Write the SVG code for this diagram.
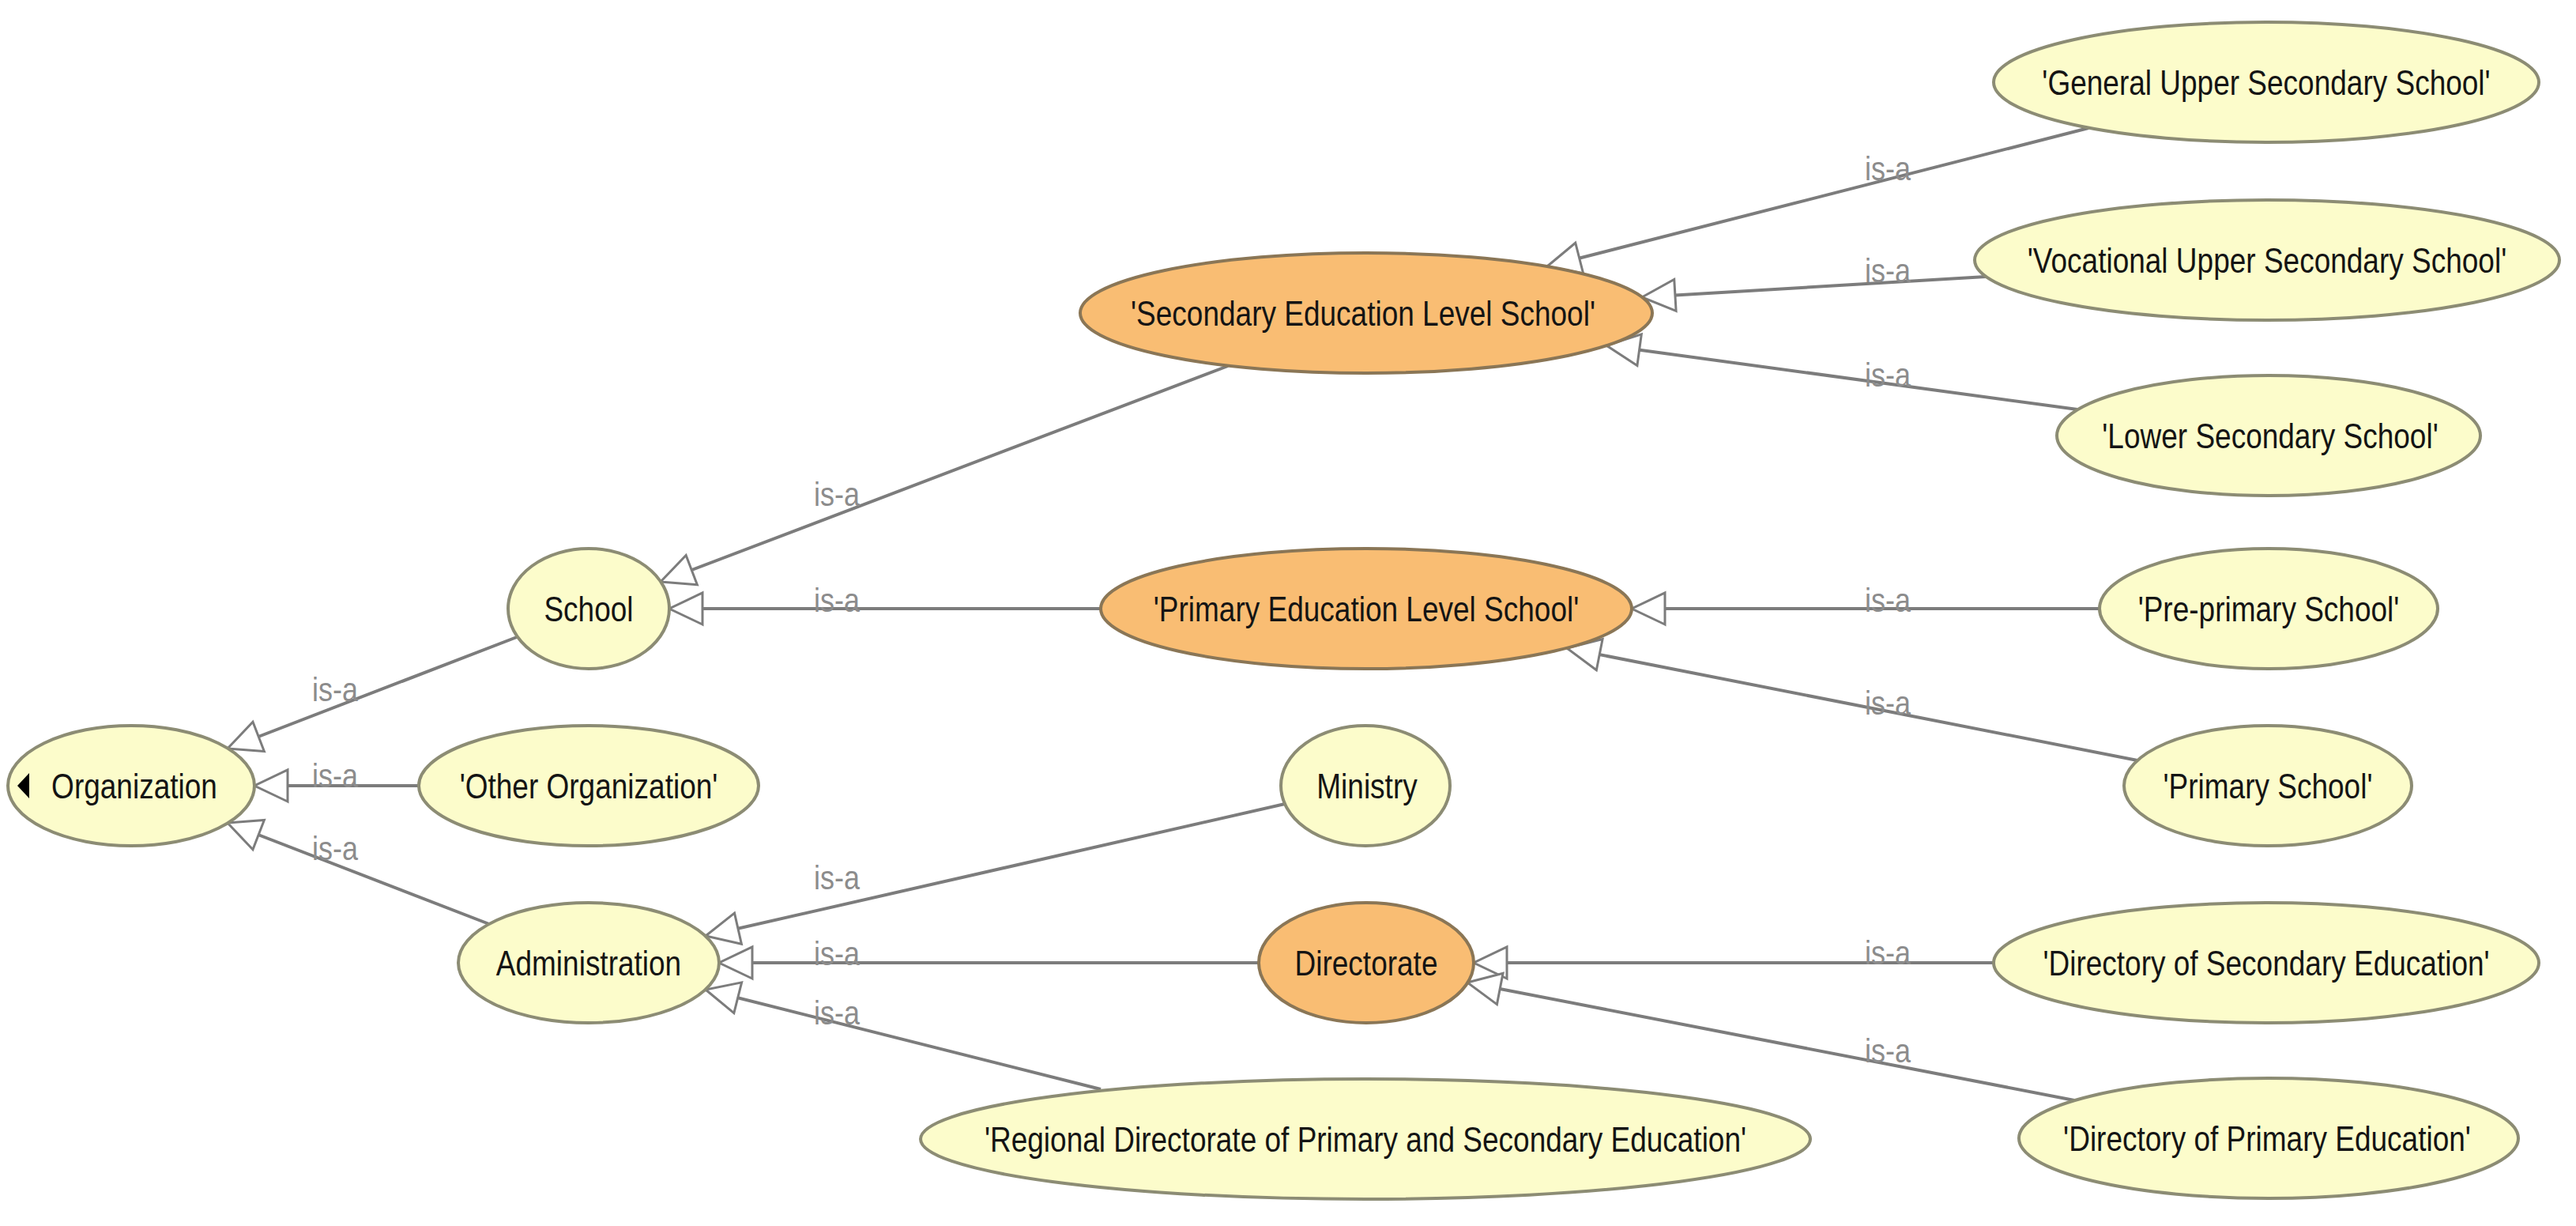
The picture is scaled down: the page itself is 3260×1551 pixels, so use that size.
<svg xmlns="http://www.w3.org/2000/svg" width="3260" height="1551" viewBox="0 0 3260 1551">
<style>
.n ellipse{stroke-width:4}
.y ellipse{fill:#fcfccb;stroke:#8c8c74}
.o ellipse{fill:#f9bd73;stroke:#8a7656}
.n text{font-family:"Liberation Sans",Arial,sans-serif;font-size:37px;fill:#141414;text-anchor:middle}
.e line{stroke:#7c7c7c;stroke-width:4;marker-end:url(#tri)}
.e text{font-family:"Liberation Sans",Arial,sans-serif;font-size:36px;fill:#8c8c8c}
</style>
<defs>
<marker id="tri" markerUnits="userSpaceOnUse" viewBox="-3 -3 48 46" markerWidth="48" markerHeight="46" refX="42" refY="20" orient="auto">
<path d="M0,0 L42,20 L0,40 Z" fill="#ffffff" stroke="#7c7c7c" stroke-width="3"/>
</marker>
</defs>
<rect width="3260" height="1551" fill="#ffffff"/>
<g id="connectors" class="e">
<line x1="654" y1="806" x2="288" y2="947"/>
<line x1="530" y1="994" x2="322" y2="994"/>
<line x1="619" y1="1169" x2="288" y2="1041"/>
<line x1="1554" y1="463" x2="836" y2="736"/>
<line x1="1393" y1="770" x2="847" y2="770"/>
<line x1="2643" y1="162" x2="1958" y2="337"/>
<line x1="2513" y1="350" x2="2078" y2="376"/>
<line x1="2629" y1="518" x2="2033" y2="437"/>
<line x1="2657" y1="770" x2="2065" y2="770"/>
<line x1="2705" y1="962" x2="1983" y2="820"/>
<line x1="1626" y1="1017" x2="893" y2="1184"/>
<line x1="1593" y1="1218" x2="910" y2="1218"/>
<line x1="1393" y1="1378" x2="893" y2="1252"/>
<line x1="2523" y1="1218" x2="1865" y2="1218"/>
<line x1="2625" y1="1392" x2="1857" y2="1243"/>
<text transform="translate(395,887) scale(1,1.2)">is-a</text>
<text transform="translate(395,996) scale(1,1.2)">is-a</text>
<text transform="translate(395,1088) scale(1,1.2)">is-a</text>
<text transform="translate(1030,640) scale(1,1.2)">is-a</text>
<text transform="translate(1030,774) scale(1,1.2)">is-a</text>
<text transform="translate(1030,1125) scale(1,1.2)">is-a</text>
<text transform="translate(1030,1221) scale(1,1.2)">is-a</text>
<text transform="translate(1030,1296) scale(1,1.2)">is-a</text>
<text transform="translate(2360,228) scale(1,1.2)">is-a</text>
<text transform="translate(2360,357) scale(1,1.2)">is-a</text>
<text transform="translate(2360,489) scale(1,1.2)">is-a</text>
<text transform="translate(2360,774) scale(1,1.2)">is-a</text>
<text transform="translate(2360,904) scale(1,1.2)">is-a</text>
<text transform="translate(2360,1220) scale(1,1.2)">is-a</text>
<text transform="translate(2360,1344) scale(1,1.2)">is-a</text>
</g>
<g id="organization" class="n y"><ellipse cx="166" cy="994" rx="156" ry="76"/><path d="M22,994 L37,978 L37,1010 Z" fill="#000"/><text transform="translate(170,1010) scale(1,1.22)">Organization</text></g>
<g id="school" class="n y"><ellipse cx="745" cy="770" rx="102" ry="76"/><text transform="translate(745,786) scale(1,1.22)">School</text></g>
<g id="other-organization" class="n y"><ellipse cx="745" cy="994" rx="215" ry="76"/><text transform="translate(745,1010) scale(1,1.22)">'Other Organization'</text></g>
<g id="administration" class="n y"><ellipse cx="745" cy="1218" rx="165" ry="76"/><text transform="translate(745,1234) scale(1,1.22)">Administration</text></g>
<g id="secondary-education-level-school" class="n o"><ellipse cx="1729" cy="396" rx="362" ry="76"/><text transform="translate(1725,412) scale(1,1.22)">'Secondary Education Level School'</text></g>
<g id="primary-education-level-school" class="n o"><ellipse cx="1729" cy="770" rx="336" ry="76"/><text transform="translate(1729,786) scale(1,1.22)">'Primary Education Level School'</text></g>
<g id="ministry" class="n y"><ellipse cx="1728" cy="994" rx="107" ry="76"/><text transform="translate(1730,1010) scale(1,1.22)">Ministry</text></g>
<g id="directorate" class="n o"><ellipse cx="1729" cy="1218" rx="136" ry="76"/><text transform="translate(1729,1234) scale(1,1.22)">Directorate</text></g>
<g id="regional-directorate" class="n y"><ellipse cx="1728" cy="1441" rx="563" ry="76"/><text transform="translate(1728,1457) scale(1,1.22)">'Regional Directorate of Primary and Secondary Education'</text></g>
<g id="general-upper-secondary-school" class="n y"><ellipse cx="2868" cy="104" rx="345" ry="76"/><text transform="translate(2868,120) scale(1,1.22)">'General Upper Secondary School'</text></g>
<g id="vocational-upper-secondary-school" class="n y"><ellipse cx="2869" cy="329" rx="370" ry="76"/><text transform="translate(2869,345) scale(1,1.22)">'Vocational Upper Secondary School'</text></g>
<g id="lower-secondary-school" class="n y"><ellipse cx="2871" cy="551" rx="268" ry="76"/><text transform="translate(2873,567) scale(1,1.22)">'Lower Secondary School'</text></g>
<g id="pre-primary-school" class="n y"><ellipse cx="2871" cy="770" rx="214" ry="76"/><text transform="translate(2871,786) scale(1,1.22)">'Pre-primary School'</text></g>
<g id="primary-school" class="n y"><ellipse cx="2870" cy="994" rx="182" ry="76"/><text transform="translate(2870,1010) scale(1,1.22)">'Primary School'</text></g>
<g id="directory-of-secondary-education" class="n y"><ellipse cx="2868" cy="1218" rx="345" ry="76"/><text transform="translate(2868,1234) scale(1,1.22)">'Directory of Secondary Education'</text></g>
<g id="directory-of-primary-education" class="n y"><ellipse cx="2871" cy="1440" rx="316" ry="76"/><text transform="translate(2869,1456) scale(1,1.22)">'Directory of Primary Education'</text></g>
</svg>
